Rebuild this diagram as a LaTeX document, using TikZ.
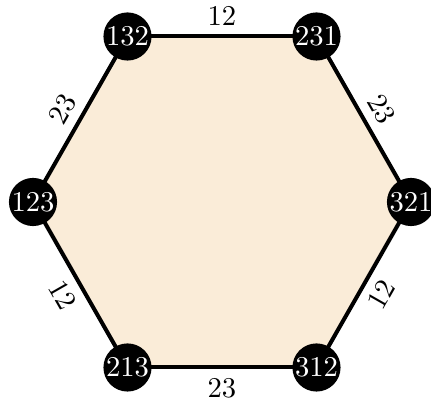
\documentclass[tikz,border=0pt]{standalone}
\usetikzlibrary{backgrounds}
\definecolor{hexfill}{RGB}{250,236,216}
\tikzset{
  perm/.style={circle, fill=black, text=white, inner sep=0pt, minimum size=16.8pt, font=\normalsize},
  edge/.style={line width=1.4pt, draw=black},
  elab/.style={midway, sloped, inner sep=3pt}
}
\begin{document}
\begin{tikzpicture}[x=0.349pt, y=0.349pt]
\useasboundingbox (0,0) rectangle (431,403);
\node[perm] (n123) at (33,201) {123};
\node[perm] (n132) at (127.5,366.5) {132};
\node[perm] (n231) at (316.5,366.5) {231};
\node[perm] (n321) at (411,201) {321};
\node[perm] (n312) at (316.5,35.5) {312};
\node[perm] (n213) at (127.5,35.5) {213};
\begin{pgfonlayer}{background}
\fill[hexfill] (n123.center) -- (n132.center) -- (n231.center) -- (n321.center) -- (n312.center) -- (n213.center) -- cycle;
\draw[edge] (n123.center) -- node[elab, above] {23} (n132.center);
\draw[edge] (n132.center) -- node[elab, above] {12} (n231.center);
\draw[edge] (n231.center) -- node[elab, above] {23} (n321.center);
\draw[edge] (n312.center) -- node[elab, below] {12} (n321.center);
\draw[edge] (n213.center) -- node[elab, below] {23} (n312.center);
\draw[edge] (n123.center) -- node[elab, below] {12} (n213.center);
\end{pgfonlayer}
\end{tikzpicture}
\end{document}
